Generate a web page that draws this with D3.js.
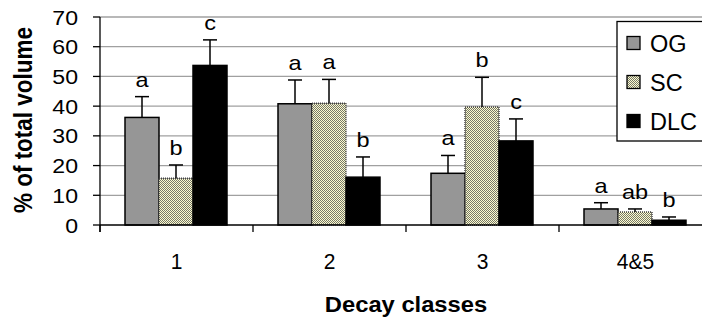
<!DOCTYPE html>
<html>
<head>
<meta charset="utf-8">
<script src="https://cdn.jsdelivr.net/npm/d3@7"></script>
<style>
  body { margin: 0; background: #fff; }
  svg { display: block; font-family: "Liberation Sans", Arial, sans-serif; }
</style>
</head>
<body>
<svg id="chart" width="702" height="322"></svg>
<script>
var categories = ["1", "2", "3", "4&5"];
var seriesNames = ["OG", "SC", "DLC"];
var ogValues = [36.2, 40.8, 17.4, 5.4];
var scValues = [15.7, 41.0, 39.7, 4.4];
var dlcValues = [53.7, 16.1, 28.3, 1.6];
var ogErr = [7.0, 8.0, 6.0, 2.1];
var scErr = [4.5, 8.0, 10.0, 1.0];
var dlcErr = [8.6, 6.8, 7.4, 1.1];
var ogLetters = ["a", "a", "a", "a"];
var scLetters = ["b", "a", "b", "ab"];
var dlcLetters = ["c", "b", "c", "b"];
var yTicks = [0, 10, 20, 30, 40, 50, 60, 70];

var svg = d3.select("#chart");

// SC checker fill
var defs = svg.append("defs");
var pat = defs.append("pattern").attr("id", "scFill")
  .attr("width", 2).attr("height", 2).attr("patternUnits", "userSpaceOnUse");
pat.append("rect").attr("width", 2).attr("height", 2).attr("fill", "#fdfdcf");
pat.append("rect").attr("width", 1).attr("height", 1).attr("fill", "#77776a");
pat.append("rect").attr("x", 1).attr("y", 1).attr("width", 1).attr("height", 1).attr("fill", "#77776a");

var seriesData = [
  {name: "OG", values: ogValues, err: ogErr, letters: ogLetters, fill: "#969696"},
  {name: "SC", values: scValues, err: scErr, letters: scLetters, fill: "url(#scFill)"},
  {name: "DLC", values: dlcValues, err: dlcErr, letters: dlcLetters, fill: "#000"}
];

var x = d3.scaleBand().domain(categories).range([100, 712]);
var x1 = d3.scaleBand().domain(seriesNames).range([25, 127]);
var y = d3.scaleLinear().domain([0, 70]).range([225, 17]);

// gridlines
svg.append("g").selectAll("line").data(yTicks.filter(function(d){ return d > 0; }))
  .enter().append("line")
  .attr("x1", 100).attr("x2", 702)
  .attr("y1", function(d){ return y(d); }).attr("y2", function(d){ return y(d); })
  .attr("stroke", "#a0a0a0").attr("stroke-width", 1.3);

// bars, error bars, letters
seriesData.forEach(function(s){
  var g = svg.append("g");
  categories.forEach(function(c, i){
    var bx = x(c) + x1(s.name);
    var bw = x1.bandwidth();
    g.append("rect")
      .attr("x", bx).attr("y", y(s.values[i]))
      .attr("width", bw).attr("height", y(0) - y(s.values[i]))
      .attr("fill", s.fill)
      .attr("stroke", s.name === "SC" ? "#444" : "#000")
      .attr("stroke-width", 1.5)
      .attr("stroke-dasharray", s.name === "SC" ? "1,1" : null);
    var cx = bx + bw / 2;
    var top = y(s.values[i] + s.err[i]);
    g.append("line").attr("x1", cx).attr("x2", cx)
      .attr("y1", y(s.values[i])).attr("y2", top)
      .attr("stroke", "#000").attr("stroke-width", 1.5);
    g.append("line").attr("x1", cx - 7).attr("x2", cx + 7)
      .attr("y1", top).attr("y2", top)
      .attr("stroke", "#000").attr("stroke-width", 1.5);
    g.append("text")
      .attr("transform", "translate(" + cx + "," + (top - 10) + ") scale(1.12,1)")
      .attr("text-anchor", "middle")
      .attr("font-size", 21)
      .text(s.letters[i]);
  });
});

// y axis
var yAxis = svg.append("g");
yAxis.append("line").attr("x1", 100).attr("x2", 100).attr("y1", y(70)).attr("y2", y(0) + 7)
  .attr("stroke", "#000").attr("stroke-width", 1.3);
yTicks.forEach(function(t){
  yAxis.append("line").attr("x1", 93).attr("x2", 100).attr("y1", y(t)).attr("y2", y(t))
    .attr("stroke", "#000").attr("stroke-width", 1.3);
  yAxis.append("text")
    .attr("transform", "translate(78," + (y(t) + 7.5) + ") scale(1.1,1)")
    .attr("text-anchor", "end").attr("font-size", 21)
    .text(t);
});

// x axis
var xAxis = svg.append("g");
xAxis.append("line").attr("x1", 100).attr("x2", 702).attr("y1", y(0)).attr("y2", y(0))
  .attr("stroke", "#000").attr("stroke-width", 1.3);
categories.forEach(function(c){
  xAxis.append("line").attr("x1", x(c)).attr("x2", x(c)).attr("y1", y(0)).attr("y2", y(0) + 7)
    .attr("stroke", "#000").attr("stroke-width", 1.3);
  xAxis.append("text")
    .attr("transform", "translate(" + (x(c) + x.bandwidth() / 2) + ",269) scale(1,1.05)")
    .attr("text-anchor", "middle").attr("font-size", 21)
    .text(c);
});

// axis titles
svg.append("text")
  .attr("transform", "translate(406,312) scale(1.08,1)")
  .attr("text-anchor", "middle").attr("font-size", 22).attr("font-weight", "bold")
  .text("Decay classes");
svg.append("text")
  .attr("transform", "translate(32,120) scale(1.15,1) rotate(-90)")
  .attr("text-anchor", "middle").attr("font-size", 22.5).attr("font-weight", "bold")
  .text("% of total volume");

// legend
var legend = svg.append("g");
legend.append("rect").attr("x", 617).attr("y", 21.5).attr("width", 100).attr("height", 119.5)
  .attr("fill", "#fff").attr("stroke", "#000").attr("stroke-width", 1.3);
seriesData.forEach(function(s, i){
  var ly = 43 + i * 39;
  legend.append("rect").attr("x", 627).attr("y", ly - 6.5).attr("width", 13).attr("height", 13)
    .attr("fill", s.fill).attr("stroke", "#000").attr("stroke-width", 1.3);
  legend.append("text").attr("x", 650).attr("y", ly + 8.5)
    .attr("font-size", 23.5).text(s.name);
});
</script>
</body>
</html>
